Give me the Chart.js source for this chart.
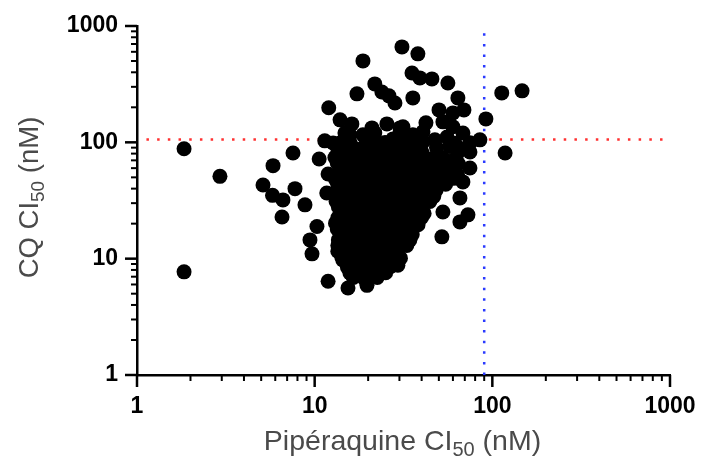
<!DOCTYPE html>
<html><head><meta charset="utf-8">
<script src="https://cdn.jsdelivr.net/npm/chart.js@4.4.0/dist/chart.umd.min.js"></script>
<style>html,body{margin:0;padding:0;background:#fff}#wrap{width:702px;height:459px;position:relative}</style>
</head><body><div id="wrap"><canvas id="c"></canvas></div>
<script>
// Pipéraquine IC50 (nM) per isolate
const pipIC50 = [
 1.84,1.84,2.93,5.83,5.12,5.79,6.63,6.55,7.55,7.75,8.82,10.6,11.9,11.7,10.3,9.41,9.66,11.9,15.4,19.7,
 14.4,29.4,26.5,11.4,12.0,13.9,16.2,17.3,18.7,18.7,21.8,23.9,26.2,28.3,25.5,27.6,31.0,38.1,35.3,39.1,
 45.7,56.2,35.7,64.0,50.1,60.0,69.2,92.0,113,147,31.4,42.3,52.7,60.0,68.3,85.1,118,35.7,40.7,64.9,
 74.8,68.3,65.7,72.9,65.7,52.0,52.7,74.8,13.9,40.7,30.2,21.8,15.8,47.5,55.6,21.0,
 14.1,16.5,19.1,22.6,26.0,30.8,35.5,48.5,57.5,
 13.0,15.3,17.7,20.9,24.0,28.5,33.0,38.9,45.0,52.5,61.0,
 14.2,16.3,19.4,22.2,26.4,30.4,35.9,41.5,49.0,56.5,
 13.1,15.1,17.9,20.5,24.4,28.1,33.3,38.4,45.4,52.2,60.5,
 14.0,16.6,19.0,22.5,26.1,30.9,35.4,42.0,48.2,
 13.2,15.4,17.6,20.9,24.1,28.6,32.8,38.8,44.5,
 14.2,16.2,19.3,22.3,26.4,30.5,35.8,41.3,
 13.1,15.3,17.7,20.8,24.3,28.2,33.4,38.2,
 14.2,16.5,19.1,22.5,26.0,30.8,35.4,
 13.5,15.2,17.9,20.6,24.1,28.4,33.0,
 14.2,16.4,19.3,22.3,26.3,30.4,
 15.3,17.7,20.8,24.1,
 16.5,19.1,22.5,
 13.5,15.8,18.5,21.6,25.2,29.4,34.4,40.2,64.0,
 13.4,15.9,18.4,21.7,25.1,29.6,34.2,40.4,47.1,54.5,64.3,
 13.6,15.7,18.6,21.5,25.3,29.3,34.6,40.0,46.7,55.0,63.6,
 13.5,15.8,18.5,21.7,25.0,29.5,34.3,40.3,47.0,54.6,
 13.4,15.9,18.6,21.5,25.3,29.3,34.5,40.1,46.8,
 13.6,15.7,18.4,21.7,25.1,29.5,34.3,40.2,
 13.5,15.8,18.6,21.6,25.2,29.4,34.5,40.0,
 13.4,15.9,18.5,21.5,25.3,29.3,34.4,
 13.6,15.8,18.4,21.7,25.1,29.5,34.3,
 13.5,15.7,18.6,21.6,25.2,29.4,
 15.9,18.5,21.5,25.3,29.3,
 15.8,18.4,21.7,25.1,
 12.7,15.8,19.9,24.9,32.2,39.1,61.6,74.8,
 14.8,21.8,30.2
];
// CQ IC50 (nM) per isolate
const cqIC50 = [
 88,7.7,51,63,43,35,32,22.8,81,40,29,72,53.5,36.7,18.9,14.5,11,6.4,5.6,5.9,
 9.75,8.8,8.5,103,198,156,144,261,501,116,318,271,251,218,144,107,661,576,395,358,
 351,324,241,241,190,179,190,159,266,277,136,147,150,136,120,105,81,116,123,89.5,
 82.7,45.7,33.3,23.8,20.7,15.4,25.2,60.2,98.8,101,133,105,116,105,111,133,
 92,90,93,89,92,90,93,90,92,
 74,72,75,73,71,74,72,75,72,74,71,
 60,58,60,58,60,58,60,58,61,57,
 48,47,49,46.5,48,47,48.5,46.5,48,46.5,49,
 38.5,37.5,39,37.8,38.6,37.5,38.8,37.6,38.8,
 31,30,31.5,30.2,31,30.2,31.2,30,31,
 25,24.2,25.3,24.3,25,24.4,25.2,24.5,
 20.2,19.6,20.3,19.5,20.2,19.7,20.1,19.6,
 16.2,15.7,16.3,15.8,16.2,15.8,16.1,
 13,12.7,13.1,12.8,13.1,12.7,13,
 10.4,10.1,10.5,10.2,10.4,10.1,
 8.4,8.2,8.4,8.2,
 6.9,6.7,6.9,
 82.7,81.5,83.5,82.0,83.0,81.8,82.9,82.2,81.6,
 66.5,67.2,65.8,66.9,66.0,67.0,65.9,66.8,66.2,67.1,65.7,
 53.5,54.1,52.9,53.8,53.2,54.0,53.0,53.7,53.3,54.2,52.8,
 43.0,43.5,42.6,43.3,42.8,43.4,42.7,43.2,42.9,43.6,
 34.6,35.0,34.3,34.9,34.4,34.8,34.5,34.7,34.2,
 27.8,28.1,27.5,28.0,27.6,28.2,27.7,27.9,
 22.4,22.7,22.2,22.6,22.3,22.5,22.2,22.6,
 18.0,18.2,17.8,18.1,17.9,18.2,17.8,
 14.5,14.7,14.3,14.6,14.4,14.6,14.4,
 11.6,11.8,11.5,11.7,11.6,11.5,
 9.37,9.5,9.3,9.45,9.35,
 7.54,7.6,7.5,7.58,
 98.8,99.5,98.0,99.8,98.5,99.2,98.2,99.0,
 120,121,119
];
const cqCutoff = 106;          // horizontal red dotted threshold (CQ)
const cqCutoffSpan = [1.13, 1000];
const pipCutoff = 90;          // vertical blue dotted threshold (PPQ)
const pipCutoffSpan = [1, 1000];
const axisRange = [1, 1000];
const majorTicks = [1, 10, 100, 1000];
const xTitleParts = ['Pipéraquine CI', '50', ' (nM)'];
const yTitleParts = ['CQ CI', '50', ' (nM)'];

const points = pipIC50.map((x, i) => ({x: x, y: cqIC50[i]}));
const allTicks = [];
majorTicks.forEach((m, i) => {
  allTicks.push(m);
  if (i < majorTicks.length - 1) for (let k = 2; k <= 9; k++) allTicks.push(m * k);
});

const FONT = '"Liberation Sans", Arial, Helvetica, sans-serif';

function drawSubText(ctx, parts, size, subSize, color, cx, baseY) {
  const main = size + 'px ' + FONT, sub = subSize + 'px ' + FONT;
  const widths = parts.map((p, i) => { ctx.font = (i === 1 ? sub : main); return ctx.measureText(p).width; });
  const total = widths.reduce((a, b) => a + b, 0);
  let xx = cx - total / 2;
  ctx.fillStyle = color; ctx.textBaseline = 'alphabetic'; ctx.textAlign = 'left';
  parts.forEach((p, i) => {
    ctx.font = (i === 1 ? sub : main);
    ctx.fillText(p, xx, baseY + (i === 1 ? size * 0.22 : 0));
    xx += widths[i];
  });
}

const decor = {
  id: 'decor',
  afterDraw(chart) {
    const ctx = chart.ctx, xs = chart.scales.x, ys = chart.scales.y, ca = chart.chartArea;
    ctx.save();
    ctx.strokeStyle = '#000'; ctx.lineCap = 'butt';
    allTicks.forEach(v => {
      const major = majorTicks.includes(v);
      const len = major ? 12 : 6;
      ctx.lineWidth = major ? 2.5 : 2;
      const px = xs.getPixelForValue(v);
      ctx.beginPath(); ctx.moveTo(px, ca.bottom); ctx.lineTo(px, ca.bottom + len); ctx.stroke();
      const py = ys.getPixelForValue(v);
      ctx.beginPath(); ctx.moveTo(ca.left, py); ctx.lineTo(ca.left - len, py); ctx.stroke();
    });
    drawSubText(ctx, xTitleParts, 28.5, 20, '#4a4a4a', (ca.left + ca.right) / 2 - 1, 450);
    ctx.translate(38, (ca.top + ca.bottom) / 2 - 3);
    ctx.rotate(-Math.PI / 2);
    drawSubText(ctx, yTitleParts, 27.5, 19, '#4a4a4a', 0, 0);
    ctx.restore();
  }
};

const tickFont = {family: FONT, size: 23, weight: 'bold'};
const noPad = s => { s.paddingLeft = 0; s.paddingRight = 0; s.paddingTop = 0; s.paddingBottom = 0; };

new Chart(document.getElementById('c'), {
  type: 'scatter',
  data: {
    datasets: [
      {data: points, backgroundColor: '#000', borderWidth: 0, pointRadius: 7.5, order: 0},
      {type: 'line', data: cqCutoffSpan.map(x => ({x: x, y: cqCutoff})), borderColor: '#ff3030',
       borderWidth: 2.5, borderDash: [2.5, 8.2], pointRadius: 0, order: 1, fill: false},
      {type: 'line', data: pipCutoffSpan.map(y => ({x: pipCutoff, y: y})), borderColor: '#2a3aff',
       borderWidth: 2.5, borderDash: [2.5, 8.1], pointRadius: 0, order: 1, fill: false}
    ]
  },
  options: {
    responsive: true, maintainAspectRatio: false, animation: false, events: [],
    layout: {padding: {top: 26, right: 32, left: 0, bottom: 0}},
    plugins: {legend: {display: false}, tooltip: {enabled: false}},
    scales: {
      x: {
        type: 'logarithmic', min: axisRange[0], max: axisRange[1],
        afterBuildTicks: s => { s.ticks = allTicks.map(v => ({value: v})); },
        afterFit: s => { s.height = 84; noPad(s); },
        grid: {display: true, drawOnChartArea: false, drawTicks: false},
        border: {display: true, color: '#000', width: 2.5},
        ticks: {autoSkip: false, maxRotation: 0, padding: 18, color: '#000', font: tickFont,
                callback: v => majorTicks.includes(v) ? String(v) : ''}
      },
      y: {
        type: 'logarithmic', min: axisRange[0], max: axisRange[1],
        afterBuildTicks: s => { s.ticks = allTicks.map(v => ({value: v})); },
        afterFit: s => { s.width = 137; noPad(s); },
        grid: {display: true, drawOnChartArea: false, drawTicks: false},
        border: {display: true, color: '#000', width: 2.5},
        ticks: {autoSkip: false, padding: 19, color: '#000', font: tickFont,
                callback: v => majorTicks.includes(v) ? String(v) : ''}
      }
    }
  },
  plugins: [decor]
});
</script>
</body></html>
